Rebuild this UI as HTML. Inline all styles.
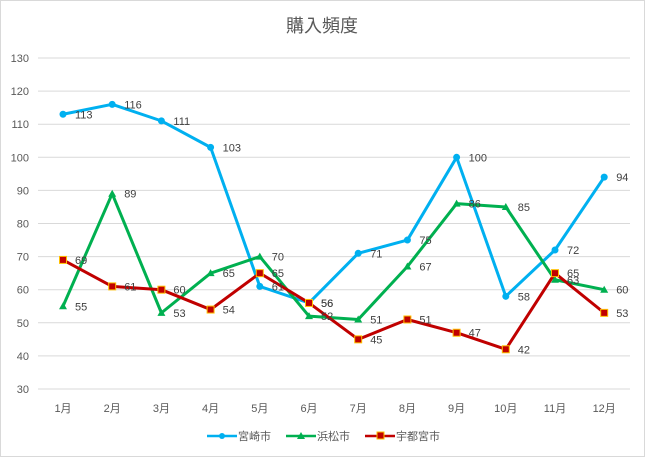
<!DOCTYPE html>
<html><head><meta charset="utf-8"><style>
html,body{margin:0;padding:0;background:#fff}
svg{display:block;font-family:"Liberation Sans","Noto Sans CJK JP",sans-serif}
</style></head><body>
<svg width="645" height="457" viewBox="0 0 645 457" xmlns="http://www.w3.org/2000/svg">
<rect x="0.5" y="0.5" width="644" height="456" fill="#fff" stroke="#d9d9d9"/>
<text x="322" y="32" text-anchor="middle" font-size="18" fill="#595959">購入頻度</text>
<g id="grid" stroke="#d9d9d9" stroke-width="1"></g>
<g id="ylab" font-size="11" fill="#595959" text-anchor="end"></g>
<g id="xlab" font-size="11" fill="#595959" text-anchor="middle"></g>
<g id="series"></g>
<g font-size="11" fill="#595959">
<line x1="207" y1="436" x2="237" y2="436" stroke="#00b0f0" stroke-width="2.5"/><circle cx="222" cy="436" r="3" fill="#00b0f0"/>
<text x="238" y="440">宮崎市</text>
<line x1="286" y1="436" x2="316" y2="436" stroke="#00b050" stroke-width="2.5"/><polygon points="301,432 305,439 297,439" fill="#00b050"/>
<text x="317" y="440">浜松市</text>
<line x1="365" y1="436" x2="395" y2="436" stroke="#c00000" stroke-width="2.5"/><rect x="377" y="432" width="7" height="7" fill="#c00000" stroke="#ffc000"/>
<text x="396" y="440">宇都宮市</text>
</g>
</svg>
<script>
(function(){
var ns="http://www.w3.org/2000/svg";
function el(p,t,a,txt){var e=document.createElementNS(ns,t);for(var k in a)e.setAttribute(k,a[k]);if(txt!=null)e.textContent=txt;document.getElementById(p).appendChild(e);return e;}
function Y(v){return 58+(130-v)*3.31;}
function X(i){return 63+i*49.2;}
for(var v=30;v<=130;v+=10){el("grid","line",{x1:38,x2:630,y1:Y(v),y2:Y(v)});el("ylab","text",{x:29,y:Y(v)+4},v);}
for(var i=0;i<12;i++)el("xlab","text",{x:X(i),y:412},(i+1)+"月");
var S=[
{c:"#00b0f0",m:"c",d:[113,116,111,103,61,56,71,75,100,58,72,94]},
{c:"#00b050",m:"t",d:[55,89,53,65,70,52,51,67,86,85,63,60]},
{c:"#c00000",m:"s",d:[69,61,60,54,65,56,45,51,47,42,65,53]}];
S.forEach(function(s){
var pts=s.d.map(function(v,i){return X(i)+","+Y(v);}).join(" ");
el("series","polyline",{points:pts,fill:"none",stroke:s.c,"stroke-width":3,"stroke-linejoin":"round"});
s.d.forEach(function(v,i){var x=X(i),y=Y(v);
if(s.m=="c")el("series","circle",{cx:x,cy:y,r:3.5,fill:s.c});
else if(s.m=="t")el("series","polygon",{points:x+","+(y-4)+" "+(x+4)+","+(y+3)+" "+(x-4)+","+(y+3),fill:s.c});
else el("series","rect",{x:x-3.5,y:y-3.5,width:7,height:7,fill:s.c,stroke:"#ffc000"});
});
});
S.forEach(function(s){s.d.forEach(function(v,i){
el("series","text",{x:X(i)+12,y:Y(v)+4,"font-size":11,fill:"#404040"},v);});});
})();
</script>
</body></html>
